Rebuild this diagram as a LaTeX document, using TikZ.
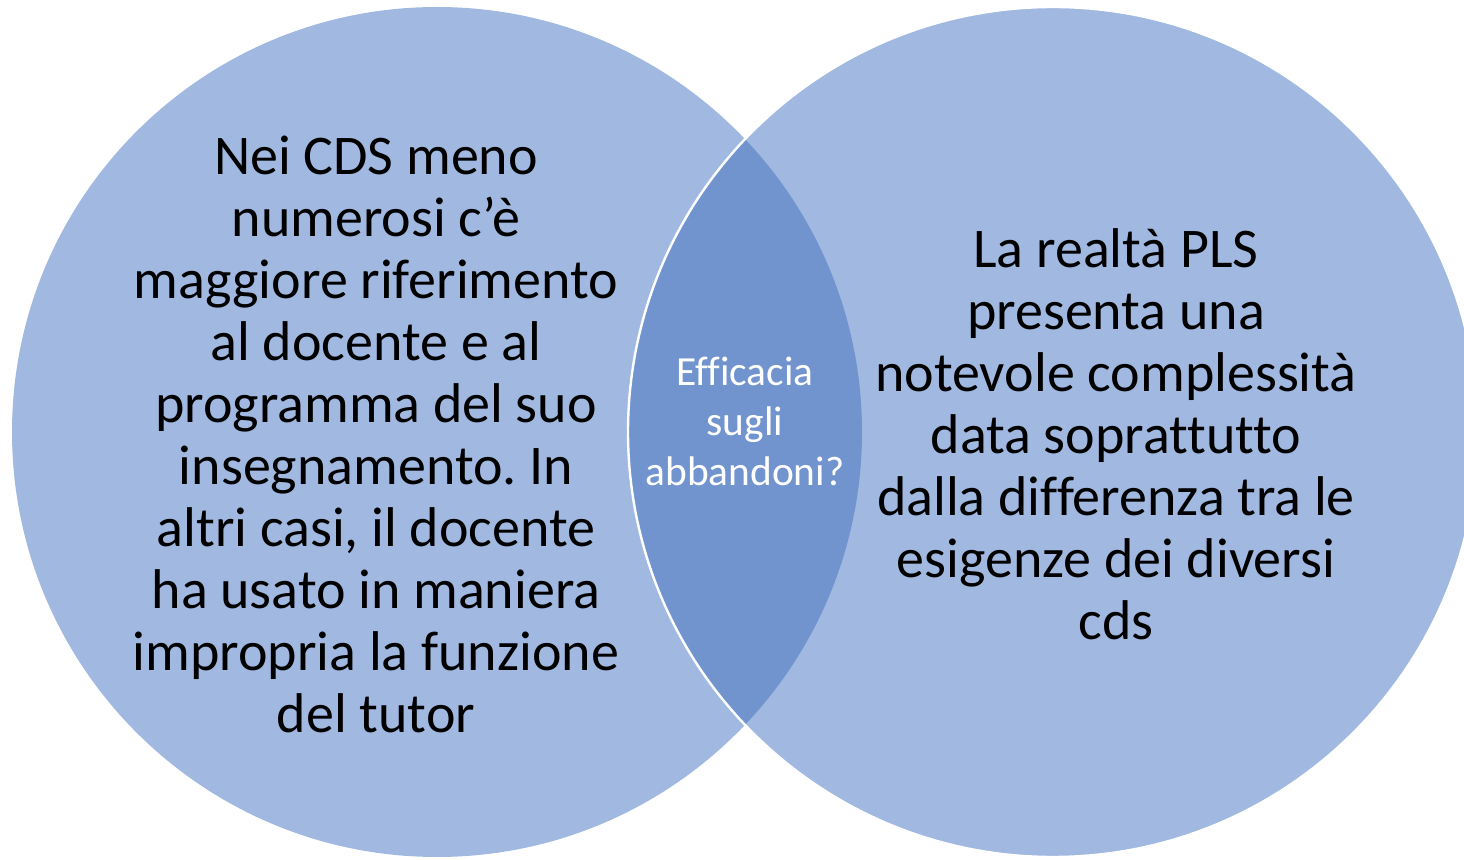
\documentclass[tikz,border=0pt]{standalone}
\usepackage{fontspec}
\setmainfont[Ligatures={NoCommon}]{Carlito}
\frenchspacing
\definecolor{vennlight}{RGB}{161,184,224}
\definecolor{venndark}{RGB}{114,148,206}
\tikzset{
  bigtext/.style={align=center,inner sep=0pt,text=black,font=\fontsize{28}{31}\selectfont},
  smalltext/.style={align=center,inner sep=0pt,text=white,font=\fontsize{20.7}{25}\selectfont},
}
\begin{document}
\begin{tikzpicture}[x=0.5pt,y=-0.5pt]
\useasboundingbox (0,0) rectangle (1464,860);
\clip (0,0) rectangle (1464,860);
\coordinate (cl) at (437,432);
\coordinate (cr) at (1053,432);
\fill[vennlight] (cl) circle[radius=425];
\fill[vennlight] (cr) circle[radius=425];
\begin{scope}
  \clip (cl) circle[radius=425];
  \fill[venndark] (cr) circle[radius=425];
\end{scope}
\draw[white,line width=1.2pt] (cr) circle[radius=425];
\node[bigtext] (lt) at (376,434) {Nei CDS meno\\numerosi c’è\\maggiore riferimento\\al docente e al\\programma del suo\\insegnamento. In\\altri casi, il docente\\ha usato in maniera\\impropria la funzione\\del tutor};
\node[bigtext] (rt) at (1116,434) {La realtà PLS\\presenta una\\notevole complessità\\data soprattutto\\dalla differenza tra le\\esigenze dei diversi\\cds};
\node[smalltext] (mt) at (745,421) {Efficacia\\sugli\\abbandoni?};
\end{tikzpicture}
\end{document}
